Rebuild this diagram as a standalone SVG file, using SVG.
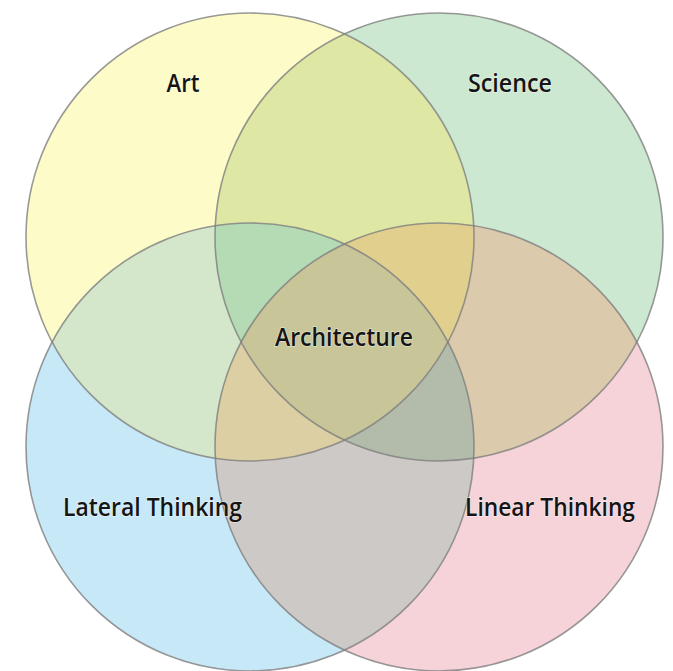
<svg xmlns="http://www.w3.org/2000/svg" width="673" height="671" viewBox="0 0 673 671">
<defs>
<circle id="cA" cx="250" cy="237" r="224"/>
<circle id="cS" cx="439" cy="237" r="224"/>
<circle id="cL" cx="250" cy="447" r="224"/>
<circle id="cN" cx="439" cy="447" r="224"/>
<clipPath id="kA"><use href="#cA"/></clipPath>
<clipPath id="kS"><use href="#cS"/></clipPath>
<clipPath id="kL"><use href="#cL"/></clipPath>
<clipPath id="kN"><use href="#cN"/></clipPath>
<clipPath id="kAS" clip-path="url(#kA)"><use href="#cS"/></clipPath>
<clipPath id="kAL" clip-path="url(#kA)"><use href="#cL"/></clipPath>
<clipPath id="kSN" clip-path="url(#kS)"><use href="#cN"/></clipPath>
<clipPath id="kASL" clip-path="url(#kAS)"><use href="#cL"/></clipPath>
<clipPath id="kASN" clip-path="url(#kAS)"><use href="#cN"/></clipPath>
<clipPath id="kALN" clip-path="url(#kAL)"><use href="#cN"/></clipPath>
<clipPath id="kSLN" clip-path="url(#kSN)"><use href="#cL"/></clipPath>
<clipPath id="kASLN" clip-path="url(#kASL)"><use href="#cN"/></clipPath>
</defs>
<style>
.ring{fill:none;stroke:#808080;stroke-opacity:0.8;stroke-width:1.6}
.lbl{font-family:"Open Sans","Noto Sans",sans-serif;font-size:25px;font-weight:600;fill:#151515;stroke:#ffffff;stroke-opacity:0.45;stroke-width:1.6;paint-order:stroke;text-anchor:middle}
</style>
<rect width="673" height="671" fill="#ffffff"/>
<g id="art"><use href="#cA" fill="#fdfcc8"/></g>
<g id="science"><use href="#cS" fill="#cde8d1"/></g>
<g id="lateral"><use href="#cL" fill="#c7e9f7"/></g>
<g id="linear"><use href="#cN" fill="#f5d3d8"/></g>
<g id="overlaps">
<use href="#cS" clip-path="url(#kA)" fill="#dfe7a5"/>
<use href="#cL" clip-path="url(#kA)" fill="#d4e7cb"/>
<use href="#cN" clip-path="url(#kS)" fill="#dbcaab"/>
<use href="#cN" clip-path="url(#kL)" fill="#cdc9c6"/>
<use href="#cL" clip-path="url(#kAS)" fill="#b4dbb4"/>
<use href="#cN" clip-path="url(#kAS)" fill="#e1cf8e"/>
<use href="#cN" clip-path="url(#kAL)" fill="#dccfa3"/>
<use href="#cL" clip-path="url(#kSN)" fill="#b3bcab"/>
<use href="#cN" clip-path="url(#kASL)" fill="#c8c599"/>
</g>
<g id="outlines">
<use href="#cA" class="ring"/>
<use href="#cS" class="ring"/>
<use href="#cL" class="ring"/>
<use href="#cN" class="ring"/>
</g>
<g id="labels">
<text class="lbl" x="183" y="92" textLength="33" lengthAdjust="spacingAndGlyphs">Art</text>
<text class="lbl" x="510" y="92" textLength="84" lengthAdjust="spacingAndGlyphs">Science</text>
<text class="lbl" x="344" y="346" textLength="138" lengthAdjust="spacingAndGlyphs">Architecture</text>
<text class="lbl" x="152.5" y="516" textLength="179" lengthAdjust="spacingAndGlyphs">Lateral Thinking</text>
<text class="lbl" x="550" y="516" textLength="170" lengthAdjust="spacingAndGlyphs">Linear Thinking</text>
</g>
</svg>
